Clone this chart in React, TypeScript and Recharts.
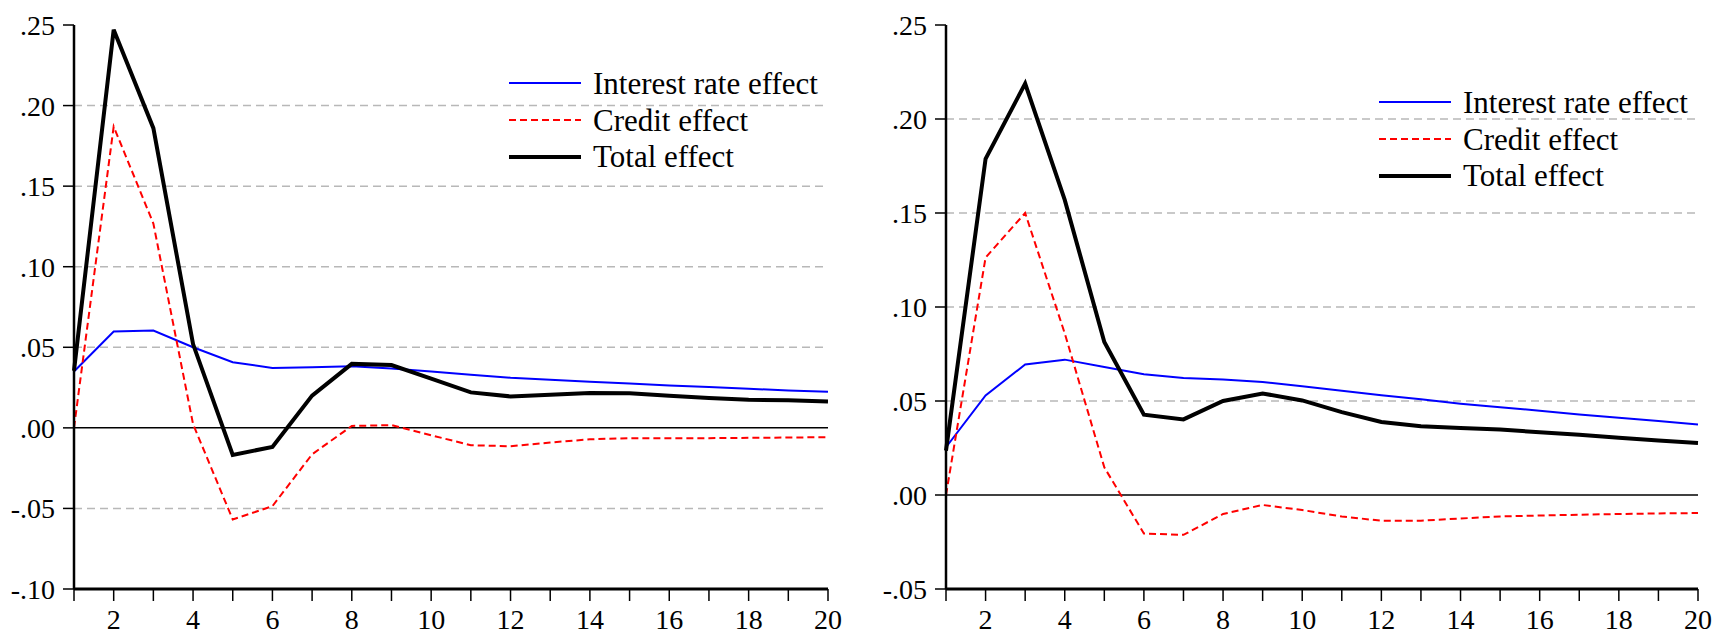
import React from "react";
import { LineChart, Line, XAxis, YAxis, ReferenceLine, Legend } from "recharts";

// periods after the shock
const periods = [1, 2, 3, 4, 5, 6, 7, 8, 9, 10, 11, 12, 13, 14, 15, 16, 17, 18, 19, 20];

// left panel
const leftInterest = [0.035, 0.0598, 0.0604, 0.05, 0.0407, 0.0372, 0.0376, 0.0382, 0.0369, 0.035, 0.033, 0.0311, 0.0299, 0.0286, 0.0276, 0.0263, 0.0253, 0.0243, 0.0232, 0.0224];
const leftCredit = [0.0, 0.187, 0.1268, 0.0023, -0.0569, -0.0486, -0.0164, 0.0012, 0.0017, -0.0046, -0.0108, -0.0114, -0.0091, -0.0071, -0.0064, -0.0064, -0.0064, -0.0062, -0.006, -0.0058];
const leftTotal = [0.0355, 0.247, 0.186, 0.052, -0.0168, -0.0118, 0.02, 0.0397, 0.039, 0.0305, 0.022, 0.0195, 0.0205, 0.0216, 0.0214, 0.02, 0.0185, 0.0174, 0.0172, 0.0164];
const leftTicks = [-0.1, -0.05, 0, 0.05, 0.1, 0.15, 0.2, 0.25];

// right panel
const rightInterest = [0.0254, 0.053, 0.0694, 0.072, 0.0681, 0.0642, 0.0622, 0.0614, 0.0601, 0.0578, 0.0555, 0.053, 0.0509, 0.0486, 0.0467, 0.0448, 0.0428, 0.0411, 0.0393, 0.0375];
const rightCredit = [0.0, 0.1263, 0.15, 0.086, 0.0147, -0.0205, -0.0212, -0.0101, -0.0053, -0.008, -0.0114, -0.0137, -0.0137, -0.0125, -0.0114, -0.0109, -0.0105, -0.0101, -0.0098, -0.0096];
const rightTotal = [0.0236, 0.1788, 0.2188, 0.157, 0.0814, 0.0427, 0.0402, 0.05, 0.054, 0.0503, 0.0441, 0.0388, 0.0366, 0.0357, 0.0348, 0.0334, 0.032, 0.0304, 0.029, 0.0277];
const rightTicks = [-0.05, 0, 0.05, 0.1, 0.15, 0.2, 0.25];

const seriesNames = ["Interest rate effect", "Credit effect", "Total effect"];

const FONT = "Liberation Serif";

const styles = [
  { key: "interest", color: "#0000ff", width: 2, dash: undefined as string | undefined },
  { key: "credit", color: "#ff0000", width: 2, dash: "7 4" },
  { key: "total", color: "#000000", width: 4, dash: undefined },
];

const fmt = (v: number) => v.toFixed(2).replace("0.", ".");

const tickStyle = { fill: "#000", fontSize: 28, fontFamily: FONT, style: { fontFamily: FONT } };

function LegendBox() {
  return (
    <div style={{ fontFamily: FONT, fontSize: 31, color: "#000" }}>
      {seriesNames.map((name, i) => (
        <div key={name} style={{ display: "flex", alignItems: "center", height: 36.7 }}>
          <svg width={72} height={10} style={{ display: "block" }}>
            <line
              x1={0}
              y1={5}
              x2={72}
              y2={5}
              stroke={styles[i].color}
              strokeWidth={styles[i].width}
              strokeDasharray={styles[i].dash}
            />
          </svg>
          <span style={{ marginLeft: 12, lineHeight: 1, whiteSpace: "nowrap" }}>{name}</span>
        </div>
      ))}
    </div>
  );
}

type PanelProps = {
  interest: number[];
  credit: number[];
  total: number[];
  ticks: number[];
  yWidth: number;
  marginRight: number;
  legendLeft: number;
  legendTop: number;
};

function Panel({ interest, credit, total, ticks, yWidth, marginRight, legendLeft, legendTop }: PanelProps) {
  const data = periods.map((t, i) => ({
    t,
    interest: interest[i],
    credit: credit[i],
    total: total[i],
  }));
  const gridLines = ticks.filter((v) => v !== 0 && v !== ticks[0] && v !== ticks[ticks.length - 1]);
  return (
    <LineChart
      width={860}
      height={637}
      data={data}
      margin={{ top: 25, right: marginRight, bottom: 0, left: 0 }}
      style={{ fontFamily: FONT }}
    >
      <XAxis
        dataKey="t"
        type="number"
        domain={[1, 20]}
        ticks={periods}
        interval={0}
        height={48}
        tickSize={12}
        tickMargin={8}
        axisLine={{ stroke: "#000", strokeWidth: 3 }}
        tickLine={{ stroke: "#000", strokeWidth: 1.5 }}
        tick={tickStyle}
        tickFormatter={(v: number) => (v % 2 === 0 ? String(v) : "")}
      />
      <YAxis
        type="number"
        domain={[ticks[0], ticks[ticks.length - 1]]}
        ticks={ticks}
        interval={0}
        width={yWidth}
        tickSize={11}
        tickMargin={8}
        axisLine={{ stroke: "#000", strokeWidth: 2.5 }}
        tickLine={{ stroke: "#000", strokeWidth: 1.5 }}
        tick={tickStyle}
        tickFormatter={fmt}
      />
      {gridLines.map((v) => (
        <ReferenceLine key={v} y={v} stroke="#b8b8b8" strokeWidth={1.5} strokeDasharray="8 5" />
      ))}
      <ReferenceLine y={0} stroke="#000" strokeWidth={1.5} />
      <Legend
        layout="vertical"
        align="center"
        verticalAlign="middle"
        content={() => <LegendBox />}
        wrapperStyle={{ left: legendLeft, top: legendTop, width: "auto" }}
      />
      <Line
        type="linear"
        dataKey="interest"
        name={seriesNames[0]}
        stroke={styles[0].color}
        strokeWidth={styles[0].width}
        dot={false}
        isAnimationActive={false}
      />
      <Line
        type="linear"
        dataKey="credit"
        name={seriesNames[1]}
        stroke={styles[1].color}
        strokeWidth={styles[1].width}
        strokeDasharray={styles[1].dash}
        dot={false}
        isAnimationActive={false}
      />
      <Line
        type="linear"
        dataKey="total"
        name={seriesNames[2]}
        stroke={styles[2].color}
        strokeWidth={styles[2].width}
        dot={false}
        isAnimationActive={false}
      />
    </LineChart>
  );
}

export default function App() {
  return (
    <div
      style={{
        position: "absolute",
        left: 0,
        top: 0,
        width: 1720,
        height: 637,
        display: "flex",
        background: "#fff",
        fontFamily: FONT,
      }}
    >
      <Panel
        interest={leftInterest}
        credit={leftCredit}
        total={leftTotal}
        ticks={leftTicks}
        yWidth={74}
        marginRight={32}
        legendLeft={509}
        legendTop={65}
      />
      <Panel
        interest={rightInterest}
        credit={rightCredit}
        total={rightTotal}
        ticks={rightTicks}
        yWidth={86}
        marginRight={22}
        legendLeft={519}
        legendTop={84}
      />
    </div>
  );
}
